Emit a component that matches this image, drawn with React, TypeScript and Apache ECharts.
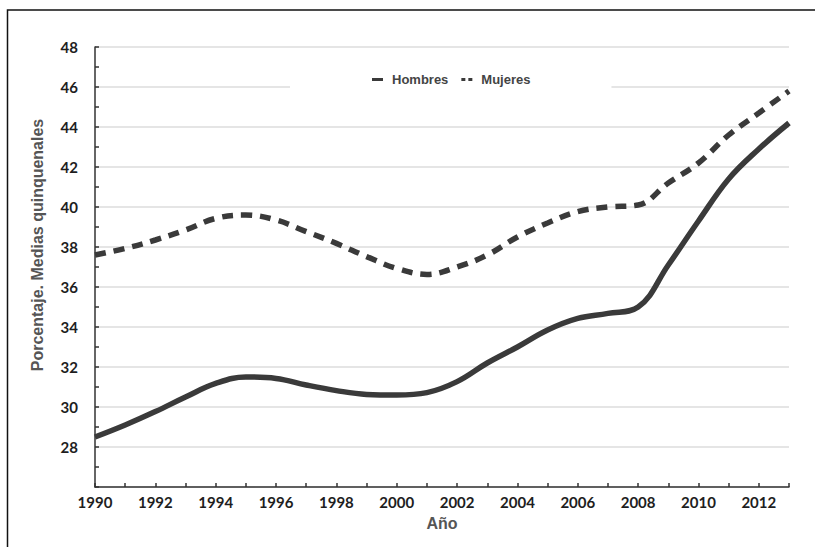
import React, { useEffect, useRef } from "react";
import * as echarts from "echarts";

const years = [1990, 1991, 1992, 1993, 1994, 1995, 1996, 1997, 1998, 1999, 2000, 2001, 2002, 2003, 2004, 2005, 2006, 2007, 2008, 2009, 2010, 2011, 2012, 2013];
const hombres = [28.5, 29.1, 29.77, 30.5, 31.18, 31.5, 31.43, 31.1, 30.82, 30.63, 30.6, 30.72, 31.27, 32.2, 33.0, 33.85, 34.43, 34.68, 35.0, 37.1, 39.3, 41.4, 42.9, 44.2];
const mujeres = [37.6, 37.93, 38.35, 38.85, 39.43, 39.6, 39.35, 38.77, 38.18, 37.52, 36.93, 36.63, 37.0, 37.6, 38.5, 39.2, 39.77, 40.0, 40.1, 41.2, 42.2, 43.6, 44.7, 45.8];
const seriesNames = ["Hombres", "Mujeres"];
const yAxisName = "Porcentaje. Medias quinquenales";
const xAxisName = "Año";

export default function App() {
  const ref = useRef<HTMLDivElement>(null);
  useEffect(() => {
    if (!ref.current) return;
    const chart = echarts.init(ref.current, undefined, { renderer: "svg" });
    const lineColor = "#3a3a3a";
    const font = "'Liberation Sans', Arial, sans-serif";
    const tickFont = "Lato, 'Liberation Sans', sans-serif";
    chart.setOption({
      animation: false,
      backgroundColor: "#ffffff",
      grid: { left: 95, right: 26, top: 47, bottom: 60 },
      legend: {
        left: 290,
        top: 67,
        padding: [6, 81, 8, 82],
        backgroundColor: "#ffffff",
        itemWidth: 11,
        itemHeight: 3,
        itemGap: 13,
        textStyle: { fontSize: 13, fontWeight: "bold", color: "#444", fontFamily: font, padding: [0, 0, 0, 4] },
        data: [
          { name: seriesNames[0], icon: "rect" },
          { name: seriesNames[1], icon: "path://M0,0H4V3H0Z M7,0H11V3H7Z" },
        ],
      },
      xAxis: {
        type: "value",
        min: 1990,
        max: 2013,
        interval: 1,
        name: xAxisName,
        nameLocation: "middle",
        nameGap: 28,
        nameTextStyle: { fontSize: 16, fontWeight: "bold", color: "#555", fontFamily: font },
        axisLine: { show: true, lineStyle: { color: "#333", width: 1.5 } },
        axisTick: { show: true, inside: true, length: 4, lineStyle: { color: "#333", width: 1.5 } },
        axisLabel: {
          margin: 7,
          fontSize: 15,
          fontWeight: "bold",
          color: "#1e1e1e",
          fontFamily: tickFont,
          formatter: (v: number) => (v % 2 === 0 && v !== 2013 ? String(v) : ""),
        },
        splitLine: { show: false },
      },
      yAxis: {
        type: "value",
        min: 26,
        max: 48,
        interval: 2,
        name: yAxisName,
        nameLocation: "middle",
        nameGap: 50,
        nameTextStyle: { fontSize: 16, fontWeight: "bold", color: "#555", fontFamily: font, padding: [0, 0, 0, 44] },
        axisLine: { show: true, lineStyle: { color: "#333", width: 1.5 } },
        axisTick: { show: true, inside: true, length: 4, lineStyle: { color: "#333", width: 1.5 } },
        minorTick: { show: true, splitNumber: 2, length: 4, lineStyle: { color: "#333", width: 1.5 } },
        axisLabel: {
          margin: 17,
          fontSize: 15,
          fontWeight: "bold",
          color: "#1e1e1e",
          fontFamily: tickFont,
          formatter: (v: number) => (v === 26 ? "" : String(v)),
        },
        splitLine: { show: true, lineStyle: { color: "#dcdcdc", width: 1.5 } },
      },
      series: [
        {
          name: seriesNames[0],
          type: "line",
          smooth: 0.4,
          symbol: "none",
          data: years.map((y, i) => [y, hombres[i]]),
          lineStyle: { color: lineColor, width: 5.5 },
          itemStyle: { color: lineColor },
        },
        {
          name: seriesNames[1],
          type: "line",
          smooth: 0.4,
          symbol: "none",
          data: years.map((y, i) => [y, mujeres[i]]),
          lineStyle: { color: lineColor, width: 5.5, type: [11, 8] },
          itemStyle: { color: lineColor },
        },
      ],
      graphic: [
        {
          type: "polyline",
          silent: true,
          shape: { points: [[7.5, 700], [7.5, 10], [900, 10]] },
          style: { fill: "none", stroke: "#111", lineWidth: 1.5 },
          z: 100,
        },
      ],
    });
    return () => chart.dispose();
  }, []);
  return (
    <div
      ref={ref}
      style={{ position: "fixed", left: 0, top: 0, width: 815, height: 547 }}
    />
  );
}
